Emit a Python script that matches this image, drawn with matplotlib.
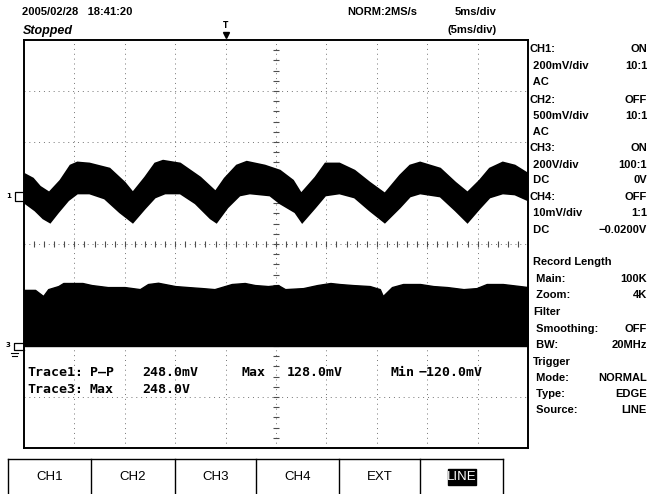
import numpy as np
import matplotlib
matplotlib.use("Agg")
from matplotlib import pyplot as plt
from matplotlib.lines import Line2D
from matplotlib.patches import Rectangle

# screen geometry (pixels of the 649x494 capture)
W, H = 649, 494

# CH1 (200 mV/div, zero at +1 div) - band envelopes
ch1_t_upper = [0.0, 0.9, 1.6, 2.5, 3.6, 4.6, 5.3, 6.5, 8.5, 10.0, 10.8, 12.0, 13.0, 13.8,
               15.5, 17.5, 19.0, 19.9, 21.1, 22.1, 23.9, 25.4, 26.7, 27.5, 28.9, 29.9,
               31.3, 32.8, 34.3, 35.8, 37.3, 38.3, 39.3, 41.3, 42.8, 44.0, 45.2, 46.2,
               47.5, 48.7, 50.0]
ch1_mv_upper = [76, 57, 25, 2, 49, 108, 120, 116, 96, 41, 2, 61, 116, 127,
                116, 61, 6, 57, 108, 123, 108, 88, 49, -2, 61, 116,
                116, 88, 41, -2, 69, 108, 120, 96, 41, 2, 49, 96,
                120, 108, 76]
ch1_t_lower = [0.0, 1.1, 1.9, 2.6, 3.4, 4.4, 5.3, 6.5, 8.0, 9.5, 10.8, 12.0, 13.0, 14.0,
               15.5, 17.0, 18.5, 19.1, 20.2, 21.4, 22.4, 24.4, 25.4, 26.9, 27.6, 28.9,
               29.9, 31.3, 32.8, 34.3, 35.8, 37.3, 38.3, 39.3, 41.3, 42.8, 44.0, 45.2,
               46.2, 47.5, 48.7, 50.0]
ch1_mv_lower = [-37, -69, -100, -116, -76, -29, -2, -2, -22, -76, -116, -61, -18, -2,
                -2, -41, -100, -116, -57, -10, -2, -10, -41, -76, -116, -57,
                -10, -2, -18, -69, -116, -57, -14, -2, -14, -69, -116, -61,
                -18, -2, -6, -29]

# CH3 (200 V/div, zero at -2 div) - top edge of the band, bottom sits at 0 V
ch3_t = [0.0, 1.1, 1.9, 2.4, 3.4, 3.9, 5.8, 6.7, 8.3, 10.0, 11.5, 12.3, 13.3, 15.0,
         16.3, 17.7, 18.9, 20.6, 21.9, 22.9, 24.2, 25.2, 25.9, 27.7, 29.1, 30.4,
         31.3, 32.6, 34.3, 35.3, 35.6, 36.5, 37.6, 39.3, 40.6, 42.0, 43.6, 44.9,
         45.9, 47.5, 49.2, 50.0]
ch3_v_upper = [220, 220, 196, 223, 235, 247, 247, 239, 231, 231, 223, 243, 248, 235,
               231, 227, 223, 243, 247, 239, 235, 239, 223, 227, 239, 247,
               243, 239, 235, 223, 196, 231, 243, 243, 235, 231, 223, 227,
               243, 243, 235, 231]

side_rows = [("CH1:", "ON"), (" 200mV/div", "10:1"), (" AC", ""),
             ("CH2:", "OFF"), (" 500mV/div", "10:1"), (" AC", ""),
             ("CH3:", "ON"), (" 200V/div", "100:1"), (" DC", "0V"),
             ("CH4:", "OFF"), (" 10mV/div", "1:1"), (" DC", "\u22120.0200V")]
info_rows = [("Record Length", ""), (" Main:", "100K"), (" Zoom:", "4K"),
             ("Filter", ""), (" Smoothing:", "OFF"), (" BW:", "20MHz"),
             ("Trigger", ""), (" Mode:", "NORMAL"), (" Type:", "EDGE"),
             (" Source:", "LINE")]
buttons = ["CH1", "CH2", "CH3", "CH4", "EXT", "LINE"]


def fx(x):
    return x / W


def fy(y):
    return 1 - y / H


fig = plt.figure(figsize=(6.49, 4.94), dpi=100)
fig.patch.set_facecolor("white")

ax = fig.add_axes([fx(24), fy(448), 504 / W, 408 / H])
ax.set_xlim(0, 50)
ax.set_ylim(-4, 4)
ax.set_xticks([])
ax.set_yticks([])
for s in ax.spines.values():
    s.set_linewidth(1.4)
    s.set_color("black")

# graticule
for i in range(1, 10):
    ax.axvline(5 * i, color="0.45", lw=0.7, ls=(0, (1, 4)), zorder=1)
for j in range(-3, 4):
    ax.axhline(j, color="0.45", lw=0.7, ls=(0, (1, 4)), zorder=1)
ax.plot(np.full(40, 25.0), np.arange(-4, 4, 0.2), ls="none", marker="_",
        ms=4, mew=0.8, color="0.3", zorder=1)
ax.plot(np.arange(0, 50, 1.0), np.zeros(50), ls="none", marker="|",
        ms=4, mew=0.8, color="0.3", zorder=1)

# traces
up = [1.0 + v / 200 for v in ch1_mv_upper]
lo = [1.0 + v / 200 for v in ch1_mv_lower]
ax.fill(ch1_t_upper + ch1_t_lower[::-1], up + lo[::-1],
        color="black", lw=1.2, zorder=3)
ax.fill_between(ch3_t, -2.0, [-2.0 + v / 200 for v in ch3_v_upper],
                color="black", lw=1.0, zorder=3)

# measurement readout (inside the screen)
mono = dict(family="DejaVu Sans Mono", fontsize=9.5, fontweight="bold",
            va="center", ha="left")
for x, y, s in [(27, 372, "Trace1:"), (90, 372, "P\u2013P"), (142, 372, "248.0mV"),
                (241, 372, "Max"), (287, 372, "128.0mV"), (390, 372, "Min"),
                (419, 372, "\u2212120.0mV"),
                (27, 389, "Trace3:"), (90, 389, "Max"), (142, 389, "248.0V")]:
    fig.text(fx(x), fy(y), s, **mono)

sans = dict(family="Liberation Sans", fontweight="bold", fontsize=8, va="center")

# header
fig.text(fx(22), fy(12), "2005/02/28   18:41:20", ha="left", **sans)
fig.text(fx(23), fy(31), "Stopped", ha="left", style="italic",
         family="Liberation Sans", fontweight="bold", fontsize=9, va="center")
fig.text(fx(347), fy(12), "NORM:2MS/s", ha="left", **sans)
fig.text(fx(455), fy(12), "5ms/div", ha="left", **sans)
fig.text(fx(448), fy(30), "(5ms/div)", ha="left", **sans)

# trigger position marker
fig.text(fx(226), fy(26), "T", ha="center", family="DejaVu Sans",
         fontsize=5.5, fontweight="bold", va="center")
fig.add_artist(Line2D([fx(226)], [fy(35)], marker="v", ms=4, color="black",
                      transform=fig.transFigure))

# channel ground markers
fig.text(fx(9), fy(196), "1", ha="center", va="center", fontsize=5,
         fontweight="bold", family="DejaVu Sans")
fig.add_artist(Line2D([fx(24), fx(15), fx(15), fx(24)],
                      [fy(192), fy(192), fy(201), fy(201)],
                      color="black", lw=0.9, transform=fig.transFigure))
fig.text(fx(8), fy(345), "3", ha="center", va="center", fontsize=5,
         fontweight="bold", family="DejaVu Sans")
fig.add_artist(Line2D([fx(24), fx(14), fx(14), fx(24)],
                      [fy(343), fy(343), fy(350), fy(350)],
                      color="black", lw=0.9, transform=fig.transFigure))
for yy, x0, x1 in [(353, 11, 18), (356, 12, 17)]:
    fig.add_artist(Line2D([fx(x0), fx(x1)], [fy(yy), fy(yy)], color="black",
                          lw=0.8, transform=fig.transFigure))

# right-hand settings panel
side_y = [49, 66, 82, 100, 116, 132, 148, 165, 180, 197, 213, 230]
for (lab, val), y in zip(side_rows, side_y):
    fig.text(fx(530), fy(y), lab, ha="left", **sans)
    if val:
        fig.text(fx(647), fy(y), val, ha="right", **sans)
info_y = [262, 279, 295, 312, 329, 345, 362, 378, 394, 410]
for (lab, val), y in zip(info_rows, info_y):
    fig.text(fx(533), fy(y), lab, ha="left", **sans)
    if val:
        fig.text(fx(647), fy(y), val, ha="right", **sans)

# soft-key bar
edges = [8, 91, 175, 256, 339, 420, 503]
fig.add_artist(Line2D([fx(8), fx(503)], [fy(459), fy(459)], color="black",
                      lw=1.0, transform=fig.transFigure))
for e in edges:
    fig.add_artist(Line2D([fx(e), fx(e)], [fy(459), fy(494)], color="black",
                          lw=1.0, transform=fig.transFigure))
for i, name in enumerate(buttons):
    cx = (edges[i] + edges[i + 1]) / 2
    if name == "LINE":
        fig.add_artist(Rectangle((fx(448), fy(485)), 28 / W, 16 / H,
                                 color="black", transform=fig.transFigure))
        fig.text(fx(cx), fy(477), name, ha="center", va="center", color="white",
                 family="Liberation Sans", fontsize=9.5)
    else:
        fig.text(fx(cx), fy(477), name, ha="center", va="center",
                 family="Liberation Sans", fontsize=9.5)

fig.savefig("out.png", dpi=100, facecolor="white")
